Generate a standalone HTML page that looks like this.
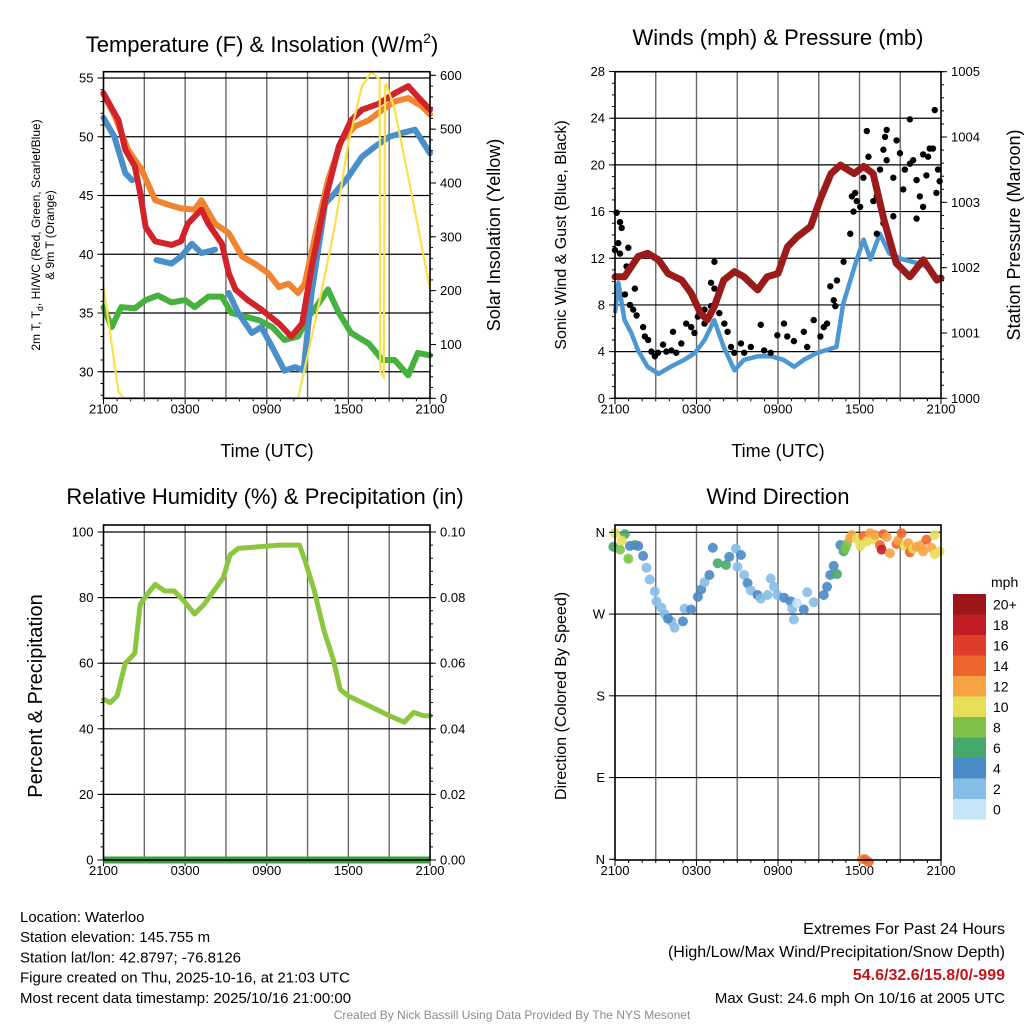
<!DOCTYPE html>
<html><head><meta charset="utf-8">
<style>
html,body{margin:0;padding:0;background:#fff;}
svg{display:block;font-family:"Liberation Sans",sans-serif;}
</style></head>
<body>
<svg id="c" width="1024" height="1024" viewBox="0 0 1024 1024"></svg>
<script>
// ---------- DATA ----------
const xTickLabels = ["2100","0300","0900","1500","2100"];
// Panel 1: temperature (hours since 2100 UTC, degF)
const redH = [0,1.1,1.6,2.3,2.7,3.1,3.8,5.0,5.7,6.2,7.2,7.7,8.7,9.2,9.7,10.6,11.6,12.9,13.8,14.6,15.3,16.3,17.3,18.2,19.0,20.2,21.4,22.4,23.1,24];
const redT = [53.7,51.4,48.9,47.5,45.2,42.3,41.1,40.8,41.1,42.6,43.8,42.6,40.9,38.4,37.0,36.1,35.3,34.1,33.0,34.1,38.9,44.6,49.2,51.4,52.3,52.8,53.7,54.3,53.4,52.3];
const orgH = [0,0.85,1.8,2.8,3.8,4.8,5.7,6.7,7.2,8.2,9.2,10.2,11.1,12.1,12.9,13.6,14.3,14.8,15.6,16.5,17.5,18.5,19.5,20.5,21.4,22.4,23.4,24];
const orgT = [53.6,51.7,48.9,47.2,44.6,44.2,43.9,43.8,44.6,42.6,41.8,39.8,39.2,38.4,37.2,37.5,36.7,37.5,41.8,46.3,49.7,50.9,51.4,52.3,53.0,53.3,52.6,51.9];
const bluH = [0,0.8,1.6,2.1,2.3,3.9,5.0,5.7,6.5,7.2,8.2,8.5,9.2,9.9,10.9,11.6,12.4,13.3,14.1,14.7,15.3,16.3,17.0,18.0,19.0,20.0,21.0,21.9,22.9,24];
const bluT = [51.6,50.0,46.9,46.3,null,39.5,39.2,39.8,40.9,40.1,40.4,null,36.7,35.0,33.3,33.8,32.1,30.1,30.4,30.1,36.7,44.3,45.2,46.6,48.3,49.2,50.0,50.3,50.6,48.6];
const grnH = [0,0.6,1.3,2.3,3.1,4.0,5.0,6.0,6.7,7.7,8.7,9.4,10.4,11.4,12.4,13.3,14.3,15.1,15.8,16.5,17.3,18.2,19.5,20.5,21.4,22.4,23.1,24];
const grnT = [35.5,33.8,35.5,35.4,36.1,36.5,35.9,36.1,35.5,36.4,36.4,35.0,34.7,34.4,33.8,32.7,33.0,34.7,35.8,37.0,35.0,33.3,32.4,31.0,31.0,29.7,31.6,31.4];
const solH = [0,1.1,1.5,14.3,15.1,16.0,17.0,18.0,19.0,19.7,20.3,20.35,20.6,20.7,20.8,21.4,22.4,23.4,24];
const solW = [208,12,0,0,90,195,320,475,580,606,592,50,40,580,583,537,412,282,202];
// Panel 2: winds & pressure
const presH = [0,0.7,1.7,2.4,3.2,3.9,4.9,5.6,6.3,6.8,7.3,8.0,8.8,9.5,10.5,11.2,12.0,12.7,13.4,14.4,15.1,15.9,16.6,17.6,18.3,19.0,19.8,20.7,21.7,22.7,23.7,24];
const presMb = [1001.86,1001.86,1002.17,1002.22,1002.12,1001.91,1001.81,1001.61,1001.30,1001.20,1001.40,1001.81,1001.94,1001.86,1001.66,1001.86,1001.91,1002.32,1002.47,1002.63,1003.04,1003.44,1003.57,1003.44,1003.55,1003.44,1002.73,1002.07,1001.86,1002.12,1001.81,1001.84];
const windH = [0,0.25,0.7,1.2,1.7,2.4,3.2,4.1,5.1,5.9,6.6,7.3,8.0,8.8,9.5,10.5,11.5,12.4,13.2,13.9,14.9,16.3,16.8,17.8,18.3,18.8,19.5,20.2,21.2,22.2,22.9,23.7,24];
const windMph = [7.3,9.9,6.7,5.6,4.1,2.7,2.1,2.7,3.3,3.9,5.0,6.7,4.4,2.4,3.3,3.6,3.6,3.3,2.7,3.3,3.9,4.4,8.1,11.9,13.6,11.9,14.1,12.4,11.9,11.6,11.3,10.1,10.5];
const gustH = [0,0.12,0.37,0.49,0.24,0.37,0.98,0.85,0.73,1.46,1.10,1.34,1.59,2.07,2.20,2.44,2.68,2.93,3.17,3.54,3.78,4.15,4.27,4.51,4.88,5.24,5.61,5.85,6.10,6.59,6.59,7.07,7.32,7.07,7.32,7.68,8.05,8.29,8.54,8.78,9.27,9.51,10.0,10.73,10.98,11.46,11.95,12.44,12.68,13.17,13.90,14.15,14.63,15.12,15.37,15.61,15.85,16.10,16.22,16.34,16.83,17.32,17.44,17.68,18.05,18.29,18.54,18.66,19.02,19.27,19.51,19.76,19.88,20.0,20.0,20.49,20.73,20.98,21.22,21.34,21.71,21.71,21.95,22.20,22.44,22.68,22.93,23.05,23.17,23.41,23.54,23.78,23.66,23.90,22.68,22.20,20.49,19.27,19.76,17.80,17.56];
const gustMph = [12.7,15.9,15.1,14.6,13.3,12.4,12.9,11.3,8.9,9.4,8.0,7.6,7.1,6.1,5.3,5.0,4.0,3.6,3.9,4.6,4.0,4.1,5.7,3.9,4.7,6.4,6.1,5.6,7.0,6.4,7.6,7.9,9.4,9.9,11.7,7.3,6.4,5.7,4.4,3.9,4.7,3.9,4.4,6.3,4.1,3.9,5.4,6.4,5.3,4.9,5.7,4.4,6.7,5.3,6.1,6.4,9.6,8.4,7.9,10.1,11.7,14.1,17.3,17.6,16.4,18.9,22.9,20.7,16.9,17.3,19.6,21.3,22.4,23.0,20.4,18.9,22.1,21.0,17.9,19.6,20.1,23.9,20.4,18.7,17.3,16.4,19.1,20.7,21.4,21.4,24.7,19.6,17.6,18.6,20.9,15.4,15.6,14.1,15.0,16.9,16.0];
// Panel 3: RH
const rhH = [0,0.5,1.0,1.3,1.6,2.3,2.7,3.4,3.8,4.5,5.2,5.9,6.7,7.4,8.1,8.8,9.3,9.9,11.4,12.9,14.4,14.8,15.5,16.2,16.9,17.4,18.0,19.5,21.0,22.1,22.8,23.5,24];
const rhPct = [49,48,50,55,60,63,78,82,84,82,82,79,75,78,82,86,93,95,95.5,96,96,91.5,82,70,61,52,50,47,44,42,45,44,44];
const precipH = [0,24];
const precipIn = [0,0];
// Panel 4: wind direction (deg) & speed (mph)
const dirH = [0,-0.12,0.37,0.73,0.49,0.98,1.46,1.10,1.71,2.07,2.32,2.56,2.93,3.05,3.41,3.66,4.15,3.90,4.39,5.0,5.12,5.61,6.10,6.34,6.59,6.95,7.20,7.56,8.17,8.41,8.90,9.02,9.27,9.51,9.76,10.0,10.49,10.73,11.22,11.46,11.71,11.95,12.44,12.93,13.17,13.05,13.41,13.90,14.15,14.63,15.37,15.61,15.85,16.10,16.34,16.59,16.83,16.95,17.07,17.44,17.32,17.80,18.05,18.29,18.54,18.78,19.02,19.15,19.51,19.63,19.76,20.0,20.24,20.73,20.85,21.10,21.34,21.59,21.71,21.95,22.20,22.56,22.68,22.93,23.29,23.54,23.54,23.90,18.17,18.41,18.66];
const dirDeg = [359,344,341,358,351,331,346,345,345,334,321,308,295,284,277,270,262,265,255,262,276,275,289,297,305,313,343,326,324,333,342,322,335,313,304,296,291,287,291,309,300,291,288,284,264,276,282,275,294,283,291,300,313,323,314,346,339,342,347,357,354,353,345,356,350,359,352,357,346,341,358,355,337,347,351,359,345,348,338,342,344,346,339,352,343,336,357,339,0,0,-3];
const dirSpd = [10.5,6.5,8.5,6.5,10.5,8.5,6.5,4.5,4.5,4.5,2.5,2.5,2.5,2.5,2.5,2.5,2.5,4.5,2.5,4.5,2.5,4.5,4.5,4.5,2.5,4.5,4.5,6.5,6.5,4.5,2.5,2.5,4.5,2.5,4.5,2.5,4.5,2.5,2.5,2.5,2.5,2.5,4.5,4.5,2.5,2.5,0.5,4.5,2.5,2.5,4.5,4.5,4.5,4.5,6.5,4.5,6.5,8.5,8.5,12.5,12.5,10.5,10.5,14.5,10.5,12.5,10.5,12.5,14.5,18.5,14.5,12.5,12.5,14.5,12.5,14.5,10.5,12.5,14.5,10.5,12.5,12.5,12.5,14.5,12.5,10.5,10.5,10.5,12.5,14.5,14.5,12.5,10.5];
const cbLabels = ["20+","18","16","14","12","10","8","6","4","2","0"];
const cbColors = ["#9b1519","#c21d24","#e03c2b","#ef662c","#f7a343","#e7de58","#7ec24a","#47a86b","#4a8ac5","#86bde7","#c4e6f8"];

// ---------- HELPERS ----------
const NS="http://www.w3.org/2000/svg";
const svg=document.getElementById('c');
function mk(tag,attrs,parent){const e=document.createElementNS(NS,tag);for(const k in attrs)e.setAttribute(k,attrs[k]);(parent||svg).appendChild(e);return e;}
function txt(s,x,y,size,anchor,parent,extra){const t=mk('text',Object.assign({x:x,y:y,'font-size':size,'text-anchor':anchor||'middle',fill:'#000'},extra||{}),parent);t.textContent=s;return t;}
function pathFrom(hs,vs,sx,sy){let d="",pen=false;for(let i=0;i<hs.length;i++){if(vs[i]===null){pen=false;continue;}d+=(pen?"L":"M")+sx(hs[i]).toFixed(1)+","+sy(vs[i]).toFixed(1);pen=true;}return d;}
function speedColor(s){if(s>=20)return cbColors[0];const i=Math.floor(s/2);return cbColors[10-Math.min(i,9)];}

function panel(name,L,R,T,B){
  const g=mk('g',{});
  
  
  const sx=h=>L+(R-L)*h/24;
  for(let k=1;k<8;k++){const l=mk('line',{x1:sx(k*3),x2:sx(k*3),y1:T,y2:B,stroke:'#6a6a6a','stroke-width':1.4},g);}
  for(let k=0;k<=24;k++){const x=sx(k);mk('line',{x1:x,x2:x,y1:B,y2:B+(k%6===0?6:3),stroke:'#000','stroke-width':1},g);}
  xTickLabels.forEach((s,i)=>{const t=txt(s,sx(i*6),B+15,13,'middle',g);});
  return {g,sx};
}
function frame(g,L,R,T,B){mk('rect',{x:L,y:T,width:R-L,height:B-T,fill:'none',stroke:'#000','stroke-width':1.6},g);}
function yAxisTicks(g,x,dir,T,B,vals,sy,minorStep,lo,hi,labels,lx){
  for(let v=lo;v<=hi+1e-9;v+=minorStep){const y=sy(v);if(y<T-0.5||y>B+0.5)continue;mk('line',{x1:x,x2:x+dir*3,y1:y,y2:y,stroke:'#000','stroke-width':1},g);}
  vals.forEach((v,i)=>{const y=sy(v);mk('line',{x1:x,x2:x+dir*6,y1:y,y2:y,stroke:'#000','stroke-width':1},g);const t=txt(labels[i],lx,y+4.5,13,dir<0?'end':'start',g);});
}

// ---------- PANEL 1 ----------
(function(){
  const L=103.5,R=430,T=71.7,B=398.3;
  const {g,sx}=panel('temperature-panel',L,R,T,B);
  const sy=v=>78-(v-55)*11.75;
  const sr=w=>398.3-w*0.5383;
  [55,50,45,40,35,30].forEach(v=>{const l=mk('line',{x1:L,x2:R,y1:sy(v),y2:sy(v),stroke:'#000','stroke-width':1.2},g);});
  const series=[[grnH,grnT,'#46b13e','dewpoint-line'],[bluH,bluT,'#4a8fc8','heat-index-windchill-line'],[orgH,orgT,'#f2842f','temp-9m-line'],[redH,redT,'#d2232a','temp-2m-line']];
  series.forEach(s=>{const p=mk('path',{d:pathFrom(s[0],s[1],sx,sy),fill:'none',stroke:s[2],'stroke-width':6,'stroke-linejoin':'round','stroke-linecap':'round'},g);});
  const p=mk('path',{d:pathFrom(solH,solW,sx,sr),fill:'none',stroke:'#fbdf4e','stroke-width':2.2},g);
  
  
  frame(g,L,R,T,B);
  yAxisTicks(g,L,-1,T,B,[55,50,45,40,35,30],sy,1,27,56,["55","50","45","40","35","30"],L-10);
  yAxisTicks(g,R,1,T,B,[600,500,400,300,200,100,0],sr,20,0,610,["600","500","400","300","200","100","0"],R+10);
  let t=txt("Temperature (F) & Insolation (W/m",262,52,22,'middle',g);
  const ts=mk('tspan',{dy:-9,'font-size':14},t);ts.textContent="2";
  const ts2=mk('tspan',{dy:9,'font-size':22},t);ts2.textContent=")";
  
  t=txt("Time (UTC)",267,457,18,'middle',g);
  t=txt("",0,0,12,'middle',g,{transform:'translate(40,235) rotate(-90)'});
  t.innerHTML='2m T, T<tspan font-size="9" dy="3">d</tspan><tspan dy="-3">, HI/WC (Red, Green, Scarlet/Blue)</tspan>';
  
  t=txt("& 9m T (Orange)",0,0,12,'middle',g,{transform:'translate(54,235) rotate(-90)'});
  t=txt("Solar Insolation (Yellow)",0,0,18,'middle',g,{transform:'translate(500,235) rotate(-90)'});
  
})();

// ---------- PANEL 2 ----------
(function(){
  const L=615,R=941,T=71.7,B=398.3;
  const {g,sx}=panel('wind-pressure-panel',L,R,T,B);
  const sy=v=>B-v*11.67;
  const sp=v=>B-(v-1000)*65.32;
  [24,20,16,12,8,4].forEach(v=>{const l=mk('line',{x1:L,x2:R,y1:sy(v),y2:sy(v),stroke:'#000','stroke-width':1.2},g);});
  let p=mk('path',{d:pathFrom(windH,windMph,sx,sy),fill:'none',stroke:'#4d97d2','stroke-width':4.5,'stroke-linejoin':'round'},g);
  
  
  gustH.forEach((h,i)=>{const c=mk('circle',{cx:sx(h),cy:sy(gustMph[i]),r:3.2,fill:'#000'},g);
    
    });
  p=mk('path',{d:pathFrom(presH,presMb,sx,sp),fill:'none',stroke:'#9b1b1b','stroke-width':7,'stroke-linejoin':'round','stroke-linecap':'round'},g);
  
  
  frame(g,L,R,T,B);
  yAxisTicks(g,L,-1,T,B,[28,24,20,16,12,8,4,0],sy,1,0,28,["28","24","20","16","12","8","4","0"],L-10);
  yAxisTicks(g,R,1,T,B,[1005,1004,1003,1002,1001,1000],sp,0.2,1000,1005,["1005","1004","1003","1002","1001","1000"],R+10);
  let t=txt("Winds (mph) & Pressure (mb)",778,45,22,'middle',g);
  t=txt("Time (UTC)",778,457,18,'middle',g);
  t=txt("Sonic Wind & Gust (Blue, Black)",0,0,16,'middle',g,{transform:'translate(566,235) rotate(-90)'});
  t=txt("Station Pressure (Maroon)",0,0,18,'middle',g,{transform:'translate(1020,235) rotate(-90)'});
})();

// ---------- PANEL 3 ----------
(function(){
  const L=103.5,R=430,T=525,B=860;
  const {g,sx}=panel('humidity-panel',L,R,T,B);
  const sy=v=>B-v*3.28;
  const spp=v=>B-v*3280;
  [100,80,60,40,20].forEach(v=>{const l=mk('line',{x1:L,x2:R,y1:sy(v),y2:sy(v),stroke:'#000','stroke-width':1.2},g);});
  let p=mk('path',{d:pathFrom(rhH,rhPct,sx,sy),fill:'none',stroke:'#8cc63f','stroke-width':5,'stroke-linejoin':'round','stroke-linecap':'round'},g);
  
  
  p=mk('path',{d:pathFrom(precipH,precipIn,sx,spp),fill:'none',stroke:'#3f9e3f','stroke-width':7},g);
  
  
  frame(g,L,R,T,B);
  yAxisTicks(g,L,-1,T,B,[100,80,60,40,20,0],sy,4,0,100,["100","80","60","40","20","0"],L-10);
  yAxisTicks(g,R,1,T,B,[0.1,0.08,0.06,0.04,0.02,0],spp,0.004,0,0.1,["0.10","0.08","0.06","0.04","0.02","0.00"],R+10);
  let t=txt("Relative Humidity (%) & Precipitation (in)",265,504,22,'middle',g);
  t=txt("Percent & Precipitation",0,0,20,'middle',g,{transform:'translate(42,696) rotate(-90)'});
})();

// ---------- PANEL 4 ----------
(function(){
  const L=615,R=941,T=525,B=860;
  const {g,sx}=panel('wind-direction-panel',L,R,T,B);
  const sy=d=>859.3-d*0.9083;
  [360,270,180,90].forEach(v=>{const l=mk('line',{x1:L,x2:R,y1:sy(v),y2:sy(v),stroke:'#000','stroke-width':1.2},g);});
  dirH.forEach((h,i)=>{const c=mk('circle',{cx:sx(h),cy:sy(dirDeg[i]),r:5,fill:speedColor(dirSpd[i]),'fill-opacity':0.9},g);
    
    });
  frame(g,L,R,T,B);
  yAxisTicks(g,L,-1,T,B,[360,270,180,90,0],sy,1000,0,0,["N","W","S","E","N"],L-10);
  let t=txt("Wind Direction",778,504,22,'middle',g);
  t=txt("Direction (Colored By Speed)",0,0,16,'middle',g,{transform:'translate(566,696) rotate(-90)'});
  const cb=mk('g',{});
  
  
  const ch=20.5;
  cbColors.forEach((c,i)=>{const r=mk('rect',{x:953,y:594+i*ch,width:33,height:ch,fill:c},cb);
    const t=txt(cbLabels[i],993,594+i*ch+ch/2+5,14,'start',cb);});
  t=txt("mph",991,587,14,'start',cb);
})();

// ---------- FOOTER ----------
(function(){
  const g=mk('g',{});
  
  
  ["Location: Waterloo","Station elevation: 145.755 m","Station lat/lon: 42.8797; -76.8126","Figure created on Thu, 2025-10-16, at 21:03 UTC","Most recent data timestamp: 2025/10/16 21:00:00"].forEach((s,i)=>txt(s,20,922+i*20.2,15,'start',g));
  const g2=mk('g',{});
  
  
  txt("Extremes For Past 24 Hours",1005,934,16,'end',g2);
  txt("(High/Low/Max Wind/Precipitation/Snow Depth)",1005,957,16,'end',g2);
  txt("54.6/32.6/15.8/0/-999",1005,980,16,'end',g2,{fill:'#c4161c','font-weight':'bold'});
  txt("Max Gust: 24.6 mph On 10/16 at 2005 UTC",1005,1003,15,'end',g2);
  const c=txt("Created By Nick Bassill Using Data Provided By The NYS Mesonet",512,1019,12,'middle',null,{fill:'#8c8c8c'});
  
  
})();
</script>
</body></html>
